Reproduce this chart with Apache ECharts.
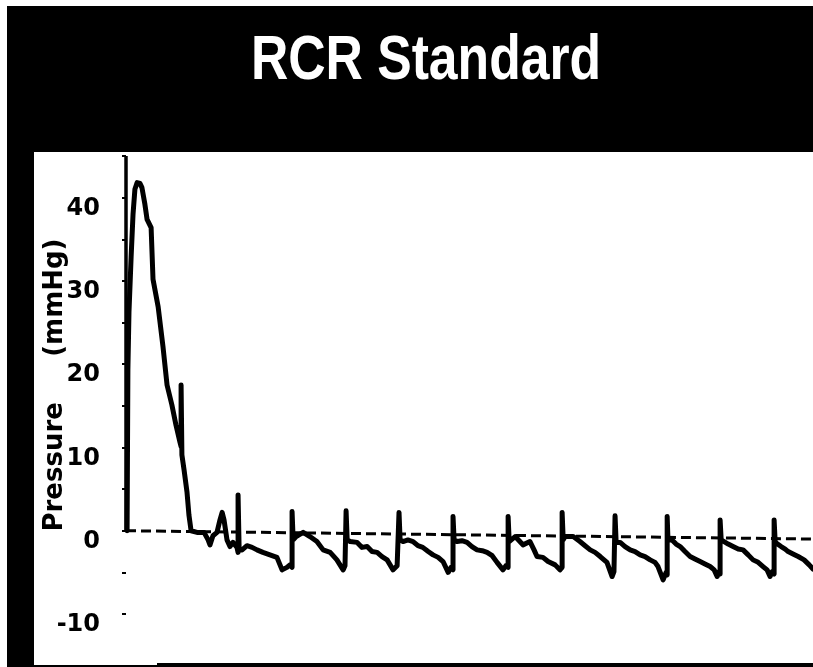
<!DOCTYPE html>
<html>
<head>
<meta charset="utf-8">
<style>
  html, body { margin: 0; padding: 0; background: #fff; }
  #chart { width: 813px; height: 667px; }
</style>
<script src="https://cdn.jsdelivr.net/npm/echarts@6/dist/echarts.min.js"></script>
</head>
<body>
<div id="chart"></div>
<script>
// Pressure trace after the RCR standard maneuver (time in s, pressure in mmHg)
const timeSec = [
  0.04, 0.07, 0.11, 0.19, 0.26, 0.33, 0.41, 0.52, 0.59, 0.70, 0.78, 0.93, 1.00, 1.19, 1.37, 1.52, 1.70, 1.85, 2.00,
  2.04, 2.04, 2.07, 2.15, 2.26, 2.33, 2.41, 2.63, 2.89, 3.04, 3.11, 3.22, 3.37, 3.48, 3.56, 3.63, 3.74, 3.85, 3.96, 4.11,
  4.15, 4.15, 4.19, 4.30, 4.48, 4.67, 4.85, 5.07, 5.33, 5.59, 5.78, 5.96, 6.07,
  6.15, 6.15, 6.19, 6.30, 6.56, 6.81, 7.07, 7.30, 7.56, 7.81, 8.04, 8.11,
  8.15, 8.15, 8.19, 8.30, 8.56, 8.74, 8.93, 9.11, 9.30, 9.48, 9.67, 9.89, 10.04,
  10.11, 10.11, 10.15, 10.26, 10.44, 10.63, 10.81, 10.99, 11.19, 11.37, 11.56, 11.74, 11.93, 12.04,
  12.11, 12.11, 12.15, 12.26, 12.44, 12.63, 12.81, 13.00, 13.19, 13.37, 13.56, 13.74, 13.96, 14.07,
  14.15, 14.15, 14.19, 14.41, 14.56, 14.70, 14.96, 15.11, 15.22, 15.44, 15.63, 15.89, 16.07,
  16.15, 16.15, 16.19, 16.26, 16.56, 16.81, 17.00, 17.19, 17.37, 17.56, 17.81, 18.00, 18.07,
  18.11, 18.11, 18.15, 18.30, 18.48, 18.67, 18.85, 19.04, 19.22, 19.41, 19.59, 19.70, 19.89, 20.00,
  20.04, 20.04, 20.07, 20.22, 20.37, 20.52, 20.70, 20.89, 21.07, 21.26, 21.44, 21.63, 21.78, 21.89, 21.96,
  22.00, 22.00, 22.04, 22.11, 22.30, 22.48, 22.67, 22.85, 23.04, 23.22, 23.41, 23.59, 23.74, 23.85, 23.93,
  24.00, 24.00, 24.04, 24.26, 24.41, 24.52, 24.70, 24.89, 25.11, 25.30, 25.44
];
const pressureMmHg = [
  0, 19.3, 26.2, 32.9, 38.0, 41.0, 41.8, 41.7, 41.2, 39.2, 37.4, 36.4, 30.2, 26.9, 22.1, 17.5, 15.1, 12.7, 10.6,
  10.1, 17.5, 9.1, 7.3, 4.6, 1.9, 0.0, -0.2, -0.2, -1.1, -1.7, -0.6, -0.2, 1.3, 2.2, 1.3, -1.1, -1.9, -1.4, -2.0,
  -2.6, 4.3, -2.3, -2.3, -1.8, -2.0, -2.3, -2.6, -2.9, -3.2, -4.7, -4.4, -4.1,
  -4.4, 2.3, -1.1, -0.7, -0.2, -0.7, -1.3, -2.3, -2.6, -3.5, -4.7, -4.2,
  -4.4, 2.4, -1.1, -1.3, -1.4, -2.0, -1.9, -2.5, -2.6, -3.1, -3.5, -4.7, -4.2,
  -4.4, 2.2, -1.1, -1.3, -1.1, -1.3, -1.8, -2.0, -2.5, -2.9, -3.2, -3.7, -5.0, -4.4,
  -4.7, 1.7, -1.1, -1.3, -1.2, -1.4, -1.9, -2.3, -2.4, -2.6, -3.0, -3.8, -4.7, -4.2,
  -4.4, 1.7, -1.3, -0.7, -1.2, -1.7, -1.3, -2.3, -3.1, -3.2, -3.7, -4.1, -4.7,
  -4.4, 2.2, -1.1, -0.7, -0.7, -1.3, -1.8, -2.3, -2.6, -3.1, -3.8, -5.5, -4.9,
  -5.0, 1.8, -1.4, -1.4, -1.9, -2.3, -2.5, -2.9, -3.1, -3.5, -3.8, -4.3, -5.9, -5.0,
  -5.3, 1.7, -1.1, -1.1, -1.6, -1.9, -2.5, -3.1, -3.4, -3.7, -4.0, -4.3, -4.7, -5.5, -4.9,
  -5.2, 1.3, -1.1, -1.1, -1.6, -1.9, -2.2, -2.3, -2.9, -3.5, -3.8, -4.3, -4.7, -5.5, -4.9,
  -5.2, 1.3, -1.4, -1.9, -2.2, -2.5, -2.8, -3.1, -3.5, -4.1, -4.6
];
// Labelled pressure ticks
const yTickLabels = [-10, 0, 10, 20, 30, 40];
// Dashed reference line: starts at 0 mmHg, drifts slightly by the end of the record
const baselineStart = 0;
const baselineEnd = -1.0;

const tEnd = 25.44;
const seriesData = timeSec.map((t, i) => [t, pressureMmHg[i]]);

const chart = echarts.init(document.getElementById('chart'), null, { renderer: 'canvas' });

chart.setOption({
  animation: false,
  backgroundColor: '#ffffff',
  graphic: [
    { type: 'rect', z: -10, shape: { x: 7, y: 6, width: 806, height: 146 }, style: { fill: '#000' }, silent: true },
    { type: 'rect', z: -10, shape: { x: 7, y: 6, width: 27, height: 661 }, style: { fill: '#000' }, silent: true },
    { type: 'rect', z: -10, shape: { x: 34, y: 665, width: 123, height: 2 }, style: { fill: '#000' }, silent: true },
    { type: 'rect', z: -10, shape: { x: 157, y: 663, width: 656, height: 4 }, style: { fill: '#000' }, silent: true },
    {
      type: 'text', x: 426, y: 62, scaleX: 0.82, silent: true,
      style: {
        x: 0, y: 0, text: 'RCR Standard',
        font: 'bold 63px "Liberation Sans", Arial, sans-serif',
        fill: '#fff',
        textAlign: 'center', textVerticalAlign: 'middle',
        align: 'center', verticalAlign: 'middle'
      }
    }
  ],
  grid: { left: 126, right: 0, top: 156, bottom: 53, containLabel: false },
  xAxis: {
    type: 'value', min: 0, max: tEnd, show: false
  },
  yAxis: {
    type: 'value', min: -10, max: 45, interval: 5,
    name: 'Pressure     (mmHg)',
    nameLocation: 'middle',
    nameGap: 58,
    nameRotate: 90,
    nameMoveOverlap: false,
    nameTextStyle: {
      fontFamily: '"DejaVu Sans", sans-serif', fontWeight: 'bold', fontSize: 26, color: '#000'
    },
    axisLine: { show: false },
    axisTick: { show: true, length: 4, lineStyle: { color: '#000', width: 2 } },
    splitLine: { show: false },
    axisLabel: {
      margin: 26,
      color: '#000',
      fontFamily: '"DejaVu Sans", sans-serif',
      fontWeight: 'bold',
      fontSize: 24,
      verticalAlign: 'top',
      lineHeight: 22,
      formatter: v => (yTickLabels.indexOf(v) >= 0 ? String(v) : '')
    }
  },
  series: [{
    type: 'line',
    data: seriesData,
    showSymbol: false,
    symbol: 'none',
    lineStyle: { color: '#000', width: 5, join: 'round', cap: 'round' },
    markLine: {
      silent: true,
      symbol: ['none', 'none'],
      label: { show: false },
      data: [
        [
          { coord: [0, baselineStart], lineStyle: { color: '#000', width: 3, type: [10, 5] } },
          { coord: [tEnd, baselineEnd] }
        ],
        [
          { coord: [0, 0], lineStyle: { color: '#000', width: 3.5, type: 'solid' } },
          { coord: [0, 45] }
        ]
      ]
    }
  }]
});
</script>
</body>
</html>
